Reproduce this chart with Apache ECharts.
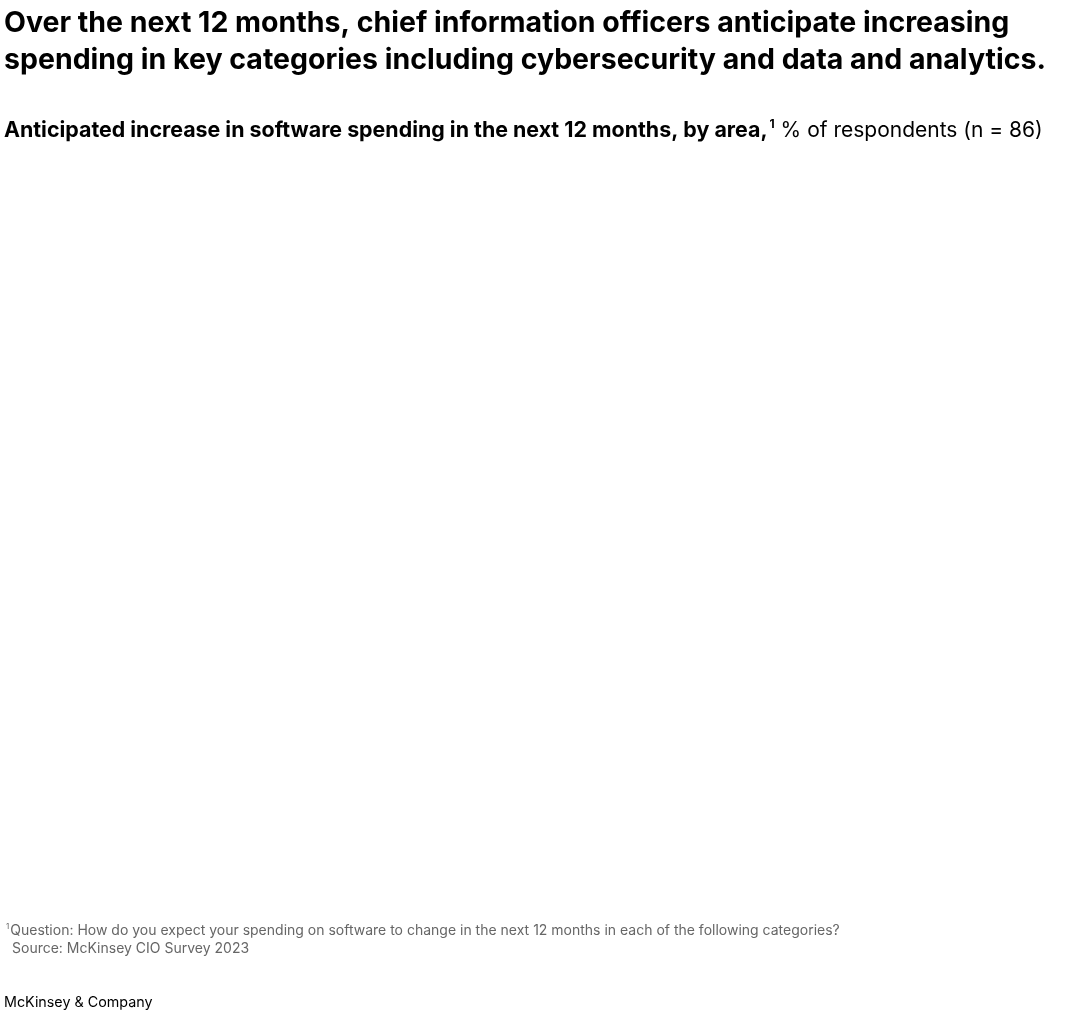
<!DOCTYPE html>
<html>
<head>
<meta charset="utf-8">
<script src="https://cdn.jsdelivr.net/npm/echarts@6/dist/echarts.min.js"></script>
<style>
  html, body { margin: 0; padding: 0; background: #fff; }
  #chart { width: 1080px; height: 1023px; }
</style>
</head>
<body>
<div id="chart"></div>
<script>
const titleLines = [
  "Over the next 12 months, chief information officers anticipate increasing",
  "spending in key categories including cybersecurity and data and analytics."
];
const subtitleBold = "Anticipated increase in software spending in the next 12 months, by area,";
const subtitleSup = "1";
const subtitleRest = " % of respondents (n = 86)";
const footnoteText = "Question: How do you expect your spending on software to change in the next 12 months in each of the following categories?";
const sourceText = "Source: McKinsey CIO Survey 2023";
const brandText = "McKinsey & Company";

const FONT = "Inter, 'Noto Sans', sans-serif";

const chart = echarts.init(document.getElementById('chart'), null, { renderer: 'canvas' });
chart.setOption({
  backgroundColor: '#ffffff',
  animation: false,
  title: [
    {
      left: 4, top: 5, padding: 0,
      text: titleLines.join('\n'),
      textStyle: { fontFamily: FONT, fontWeight: 'bold', fontSize: 28.5, lineHeight: 37, color: '#000' }
    },
    {
      left: 4, top: 118, padding: 0,
      text: '{b|' + subtitleBold + '}{s|' + subtitleSup + '}{r|' + subtitleRest + '}',
      textStyle: {
        rich: {
          b: { fontFamily: FONT, fontWeight: 'bold', fontSize: 21.4, color: '#000', lineHeight: 26 },
          s: { fontFamily: FONT, fontWeight: 'bold', fontSize: 12, color: '#000', verticalAlign: 'top', padding: [0, 0, 14, 2], lineHeight: 26 },
          r: { fontFamily: FONT, fontWeight: 'normal', fontSize: 21, color: '#000', lineHeight: 26 }
        }
      }
    },
    {
      left: 6, top: 922, padding: 0,
      text: '{s|1}{t|' + footnoteText + '}\n{p| }{t|' + sourceText + '}',
      textStyle: {
        fontWeight: 'normal',
        rich: {
          s: { fontFamily: FONT, fontWeight: 'normal', fontSize: 8, color: '#666', padding: [0, 1, 8, 0], lineHeight: 18 },
          p: { fontFamily: FONT, fontWeight: 'normal', fontSize: 14, color: '#666', lineHeight: 18, width: 6 },
          t: { fontFamily: FONT, fontWeight: 'normal', fontSize: 14, color: '#666', lineHeight: 18 }
        }
      }
    },
    {
      left: 4, top: 996, padding: 0,
      text: brandText,
      textStyle: { fontFamily: FONT, fontWeight: 'normal', fontSize: 14.3, color: '#000' }
    }
  ],
  series: []
});
</script>
</body>
</html>
